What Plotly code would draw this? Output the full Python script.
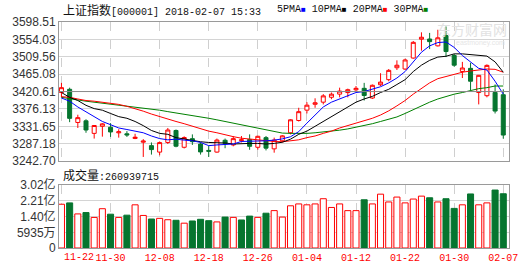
import plotly.graph_objects as go

dates = ["11-22","11-23","11-24","11-27","11-28","11-29","11-30","12-01","12-04","12-05",
         "12-06","12-07","12-08","12-11","12-12","12-13","12-14","12-15","12-18","12-19",
         "12-20","12-21","12-22","12-25","12-26","12-27","12-28","12-29","01-02","01-03",
         "01-04","01-05","01-08","01-09","01-10","01-11","01-12","01-15","01-16","01-17",
         "01-18","01-19","01-22","01-23","01-24","01-25","01-26","01-29","01-30","01-31",
         "02-01","02-02","02-05","02-06","02-07"]

open_ = [3418.1, 3426.3, 3341.5, 3345.7, 3313.6, 3331.7, 3329.2, 3315.0, 3312.5, 3300.6,
         3291.0, 3282.2, 3265.7, 3290.4, 3321.0, 3278.0, 3300.0, 3286.4, 3270.0, 3265.7,
         3296.0, 3284.0, 3295.0, 3298.0, 3278.0, 3302.7, 3274.0, 3294.6, 3315.1, 3346.5,
         3373.0, 3388.0, 3393.4, 3406.0, 3414.0, 3418.0, 3425.0, 3428.8, 3404.0, 3438.0,
         3451.0, 3481.5, 3478.2, 3506.3, 3554.5, 3555.0, 3537.5, 3563.9, 3512.8, 3472.0,
         3479.9, 3418.1, 3410.0, 3418.1, 3412.5]
close = [3430.5, 3352.0, 3353.8, 3322.2, 3333.7, 3337.9, 3317.2, 3317.6, 3309.6, 3303.7,
         3294.0, 3272.1, 3290.0, 3322.2, 3280.8, 3303.0, 3292.4, 3266.1, 3267.9, 3296.5,
         3287.6, 3300.1, 3297.1, 3280.5, 3306.1, 3275.8, 3296.4, 3307.2, 3348.3, 3369.1,
         3385.7, 3391.8, 3409.5, 3413.9, 3421.8, 3425.3, 3428.9, 3410.5, 3436.6, 3444.7,
         3474.8, 3487.9, 3501.4, 3546.5, 3559.5, 3548.3, 3558.1, 3523.0, 3488.0, 3480.8,
         3447.0, 3462.1, 3487.5, 3370.7, 3309.3]
high = [3442.8, 3430.5, 3361.3, 3349.7, 3335.0, 3339.8, 3339.8, 3324.2, 3319.3, 3312.6,
        3298.8, 3290.4, 3292.9, 3327.4, 3323.5, 3306.0, 3311.0, 3290.4, 3282.2, 3300.3,
        3300.3, 3306.9, 3306.9, 3311.0, 3307.5, 3306.9, 3302.7, 3309.0, 3349.7, 3379.1,
        3393.4, 3403.3, 3414.0, 3418.1, 3430.5, 3428.0, 3434.7, 3442.8, 3438.7, 3467.5,
        3478.2, 3500.4, 3504.6, 3549.8, 3572.1, 3570.6, 3578.7, 3587.0, 3517.0, 3496.5,
        3494.0, 3463.0, 3490.0, 3438.7, 3426.3]
low = [3405.8, 3342.3, 3327.4, 3315.1, 3300.3, 3305.2, 3304.5, 3302.7, 3304.5, 3298.8,
       3253.3, 3259.3, 3257.5, 3286.4, 3278.0, 3275.0, 3284.0, 3259.3, 3253.3, 3264.2,
       3275.6, 3280.5, 3290.4, 3271.6, 3272.0, 3270.0, 3264.2, 3291.0, 3311.0, 3344.0,
       3364.5, 3379.1, 3387.7, 3401.0, 3405.8, 3405.8, 3420.6, 3397.6, 3401.6, 3434.7,
       3447.0, 3475.7, 3475.7, 3504.6, 3525.1, 3529.3, 3536.0, 3508.8, 3484.1, 3455.2,
       3423.8, 3387.7, 3405.8, 3364.5, 3300.0]

ma5 = [3404.0, 3395.9, 3381.1, 3368.7, 3358.1, 3344.0, 3335.8, 3327.4, 3323.5, 3319.3,
       3315.1, 3306.9, 3300.3, 3297.1, 3298.8, 3296.3, 3294.6, 3290.4, 3282.2, 3284.0,
       3284.7, 3286.4, 3292.9, 3292.9, 3294.6, 3294.6, 3296.3, 3299.5, 3305.0, 3318.0,
       3339.8, 3360.6, 3381.1, 3393.4, 3401.6, 3410.0, 3418.1, 3420.6, 3426.3, 3432.9,
       3442.8, 3455.2, 3471.7, 3496.5, 3521.2, 3537.5, 3545.9, 3547.4, 3533.5, 3512.8,
       3496.5, 3479.9, 3475.7, 3447.0, 3413.9]
ma10 = [3418.1, 3405.8, 3397.6, 3385.3, 3376.9, 3372.9, 3364.5, 3356.4, 3352.2, 3344.0,
        3333.4, 3321.0, 3313.6, 3311.1, 3302.7, 3298.8, 3296.3, 3292.1, 3290.4, 3290.4,
        3288.9, 3286.4, 3287.9, 3287.9, 3287.9, 3286.4, 3287.9, 3290.9, 3298.8, 3311.1,
        3319.3, 3331.6, 3344.0, 3356.4, 3368.7, 3382.8, 3393.4, 3401.6, 3408.2, 3418.1,
        3426.3, 3438.6, 3451.0, 3471.7, 3488.1, 3500.4, 3508.8, 3510.8, 3517.0, 3517.0,
        3514.5, 3512.8, 3511.3, 3496.5, 3470.0]
ma20 = [3407.5, 3405.8, 3401.6, 3397.6, 3395.9, 3393.4, 3390.9, 3387.7, 3382.8, 3376.9,
        3370.4, 3363.0, 3356.4, 3348.9, 3344.0, 3338.3, 3331.6, 3326.0, 3319.3, 3315.1,
        3309.4, 3305.2, 3301.2, 3298.8, 3296.3, 3294.6, 3292.9, 3292.1, 3293.8, 3297.1,
        3302.7, 3306.9, 3313.6, 3319.3, 3327.4, 3333.4, 3339.8, 3346.5, 3352.2, 3360.6,
        3371.2, 3384.0, 3397.6, 3414.0, 3428.7, 3442.8, 3453.5, 3459.4, 3465.1, 3470.0,
        3473.2, 3475.7, 3478.2, 3477.4, 3470.0]
ma30 = [3405.8, 3403.3, 3399.1, 3395.9, 3393.4, 3391.7, 3389.2, 3386.7, 3384.3, 3381.1,
        3378.6, 3376.1, 3372.9, 3369.2, 3366.2, 3363.0, 3359.6, 3356.4, 3352.2, 3348.2,
        3344.0, 3339.8, 3335.8, 3331.6, 3327.4, 3323.5, 3319.3, 3314.3, 3313.6, 3313.1,
        3313.6, 3315.1, 3316.8, 3319.3, 3321.8, 3325.0, 3329.2, 3333.4, 3338.3, 3344.0,
        3349.7, 3355.6, 3364.5, 3374.4, 3385.3, 3393.4, 3401.6, 3408.2, 3413.9, 3418.1,
        3423.8, 3428.0, 3430.5, 3434.7, 3434.7]

volume = [210.5e6, 217e6, 164e6, 170.5e6, 147e6, 189e6, 162.6e6, 147e6, 158e6, 207.7e6,
          156.6e6, 139.4e6, 142.6e6, 136e6, 133.3e6, 119.4e6, 130e6, 138e6, 131.5e6, 125.5e6,
          148.7e6, 147.3e6, 134.8e6, 153.4e6, 147.3e6, 167.3e6, 179.8e6, 148.7e6, 203e6, 212e6,
          207.7e6, 212e6, 237e6, 195e6, 212e6, 179.7e6, 179.7e6, 232e6, 212e6, 259e6,
          221.5e6, 245e6, 217e6, 235.5e6, 249.5e6, 241.6e6, 221.5e6, 237e6, 190.5e6, 207.7e6,
          260e6, 207.7e6, 217e6, 278.8e6, 260939715]
vol_up = [1,0,1,0,1,1,0,1,0,1, 1,0,1,1,0,1,0,0,0,1, 0,1,0,0,1,0,1,1,1,1,
          1,1,1,1,1,1,1,0,1,1, 1,1,1,1,1,0,1,0,0,1, 0,1,1,0,0]

price_ticks = [3242.70, 3287.18, 3331.65, 3376.13, 3420.61, 3465.08, 3509.56, 3554.03, 3598.51]
vol_max = 302e6
vol_tickvals = [0, 75.5e6, 151e6, 226.5e6, 302e6]
vol_ticktext = ["0", "5935万", "1.40亿", "2.21亿", "3.02亿"]
x_tick_idx = [0, 6, 12, 18, 24, 30, 36, 42, 48, 54]

RED = "#ff0000"
GREEN = "#06752f"
GRID = "#d4d4d4"
BORDER = "#9a9a9a"
MONO = "Liberation Mono, monospace"

fig = go.Figure()

fig.add_trace(go.Candlestick(
    x=dates, open=open_, high=high, low=low, close=close,
    increasing=dict(line=dict(color=RED, width=1), fillcolor="white"),
    decreasing=dict(line=dict(color=GREEN, width=1), fillcolor=GREEN),
    xaxis="x", yaxis="y", showlegend=False, hoverinfo="skip"))

for vals, col in [(ma30, "#008000"), (ma20, RED), (ma10, "#000000"), (ma5, "#0000ff")]:
    fig.add_trace(go.Scatter(x=dates, y=vals, mode="lines",
                             line=dict(color=col, width=1),
                             xaxis="x", yaxis="y", showlegend=False, hoverinfo="skip"))

fig.add_trace(go.Bar(
    x=dates, y=volume, width=0.74,
    marker=dict(color=["white" if u else GREEN for u in vol_up],
                line=dict(color=[RED if u else GREEN for u in vol_up], width=1)),
    xaxis="x2", yaxis="y2", showlegend=False, hoverinfo="skip"))

xt = [dates[i] for i in x_tick_idx]
xtext = [""] + [dates[i] for i in x_tick_idx[1:]]
xcommon = dict(type="category", categoryorder="array", categoryarray=dates,
               range=[-0.3, 54.7], showgrid=True, gridcolor="#cfcfcf", griddash="dash",
               gridwidth=1, showline=True, linecolor=BORDER, linewidth=1, mirror=True,
               zeroline=False, ticks="", tickvals=xt, fixedrange=True)

fig.update_layout(
    width=530, height=276,
    margin=dict(l=56, r=18, t=22, b=20),
    paper_bgcolor="white", plot_bgcolor="white",
    xaxis=dict(**xcommon, anchor="y", domain=[0, 1], showticklabels=False,
               rangeslider=dict(visible=False)),
    yaxis=dict(domain=[0.3846, 1], range=[3242.70, 3598.51], tickvals=price_ticks,
               ticktext=[f"{v:.2f}" for v in price_ticks], showgrid=True, gridcolor=GRID,
               showline=True, linecolor=BORDER, mirror=True, zeroline=False, ticks="",
               tickfont=dict(family="Liberation Sans, Arial", size=12, color="#333333"),
               anchor="x"),
    xaxis2=dict(**xcommon, anchor="y2", domain=[0, 1], ticktext=xtext,
                tickfont=dict(family=MONO, size=10, color=RED)),
    yaxis2=dict(domain=[0, 0.2778], range=[0, vol_max], tickvals=vol_tickvals,
                ticktext=vol_ticktext, showgrid=True, gridcolor=GRID, showline=True,
                linecolor=BORDER, mirror=True, zeroline=False, ticks="",
                tickfont=dict(family="Liberation Sans, Noto Sans CJK SC", size=12, color="#333333"),
                anchor="x2"),
    shapes=[dict(type="line", xref="paper", x0=0, x1=1, yref="y",
                 y0=price_ticks[4], y1=price_ticks[4], line=dict(color="#8a8a8a", width=1))],
)

cjk = "font-family:Noto Sans CJK SC;font-size:12px"
fig.add_annotation(xref="paper", yref="paper", x=0.004, y=1.056, xanchor="left", yanchor="middle",
                   showarrow=False,
                   text=f"<span style='{cjk}'>上证指数</span>[000001] 2018-02-07 15:33",
                   font=dict(family=MONO, size=10, color="#111111"))
sq = "font-size:8px"
fig.add_annotation(xref="paper", yref="paper", x=0.48, y=1.054, xanchor="left", yanchor="middle",
                   showarrow=False,
                   text=(f"5PMA<span style='color:#0000ff;{sq}'>■</span> "
                         f"10PMA<span style='color:#000000;{sq}'>■</span> "
                         f"20PMA<span style='color:#ff0000;{sq}'>■</span> "
                         f"30PMA<span style='color:#008000;{sq}'>■</span>"),
                   font=dict(family=MONO, size=10, color="#111111"))
fig.add_annotation(xref="paper", yref="paper", x=0.004, y=0.325, xanchor="left", yanchor="middle",
                   showarrow=False,
                   text=f"<span style='{cjk}'>成交量</span>:{volume[-1]}",
                   font=dict(family=MONO, size=10, color="#111111"))
fig.add_annotation(xref="x2", yref="paper", x=dates[0], y=-0.043, xanchor="left", yanchor="middle",
                   xshift=1, showarrow=False, text=dates[0],
                   font=dict(family=MONO, size=10, color=RED))
fig.add_annotation(xref="paper", yref="paper", x=1.0, y=0.968, xanchor="right", yanchor="middle",
                   showarrow=False, text="东方财富网",
                   font=dict(family="Noto Sans CJK SC", size=14, color="#e2e2e2"))
fig.add_annotation(xref="paper", yref="paper", x=0.995, y=0.905, xanchor="right", yanchor="middle",
                   showarrow=False, text="eastmoney.com",
                   font=dict(family="Liberation Sans", size=7, color="#e6e6e6"))

fig.write_html("out.html")
